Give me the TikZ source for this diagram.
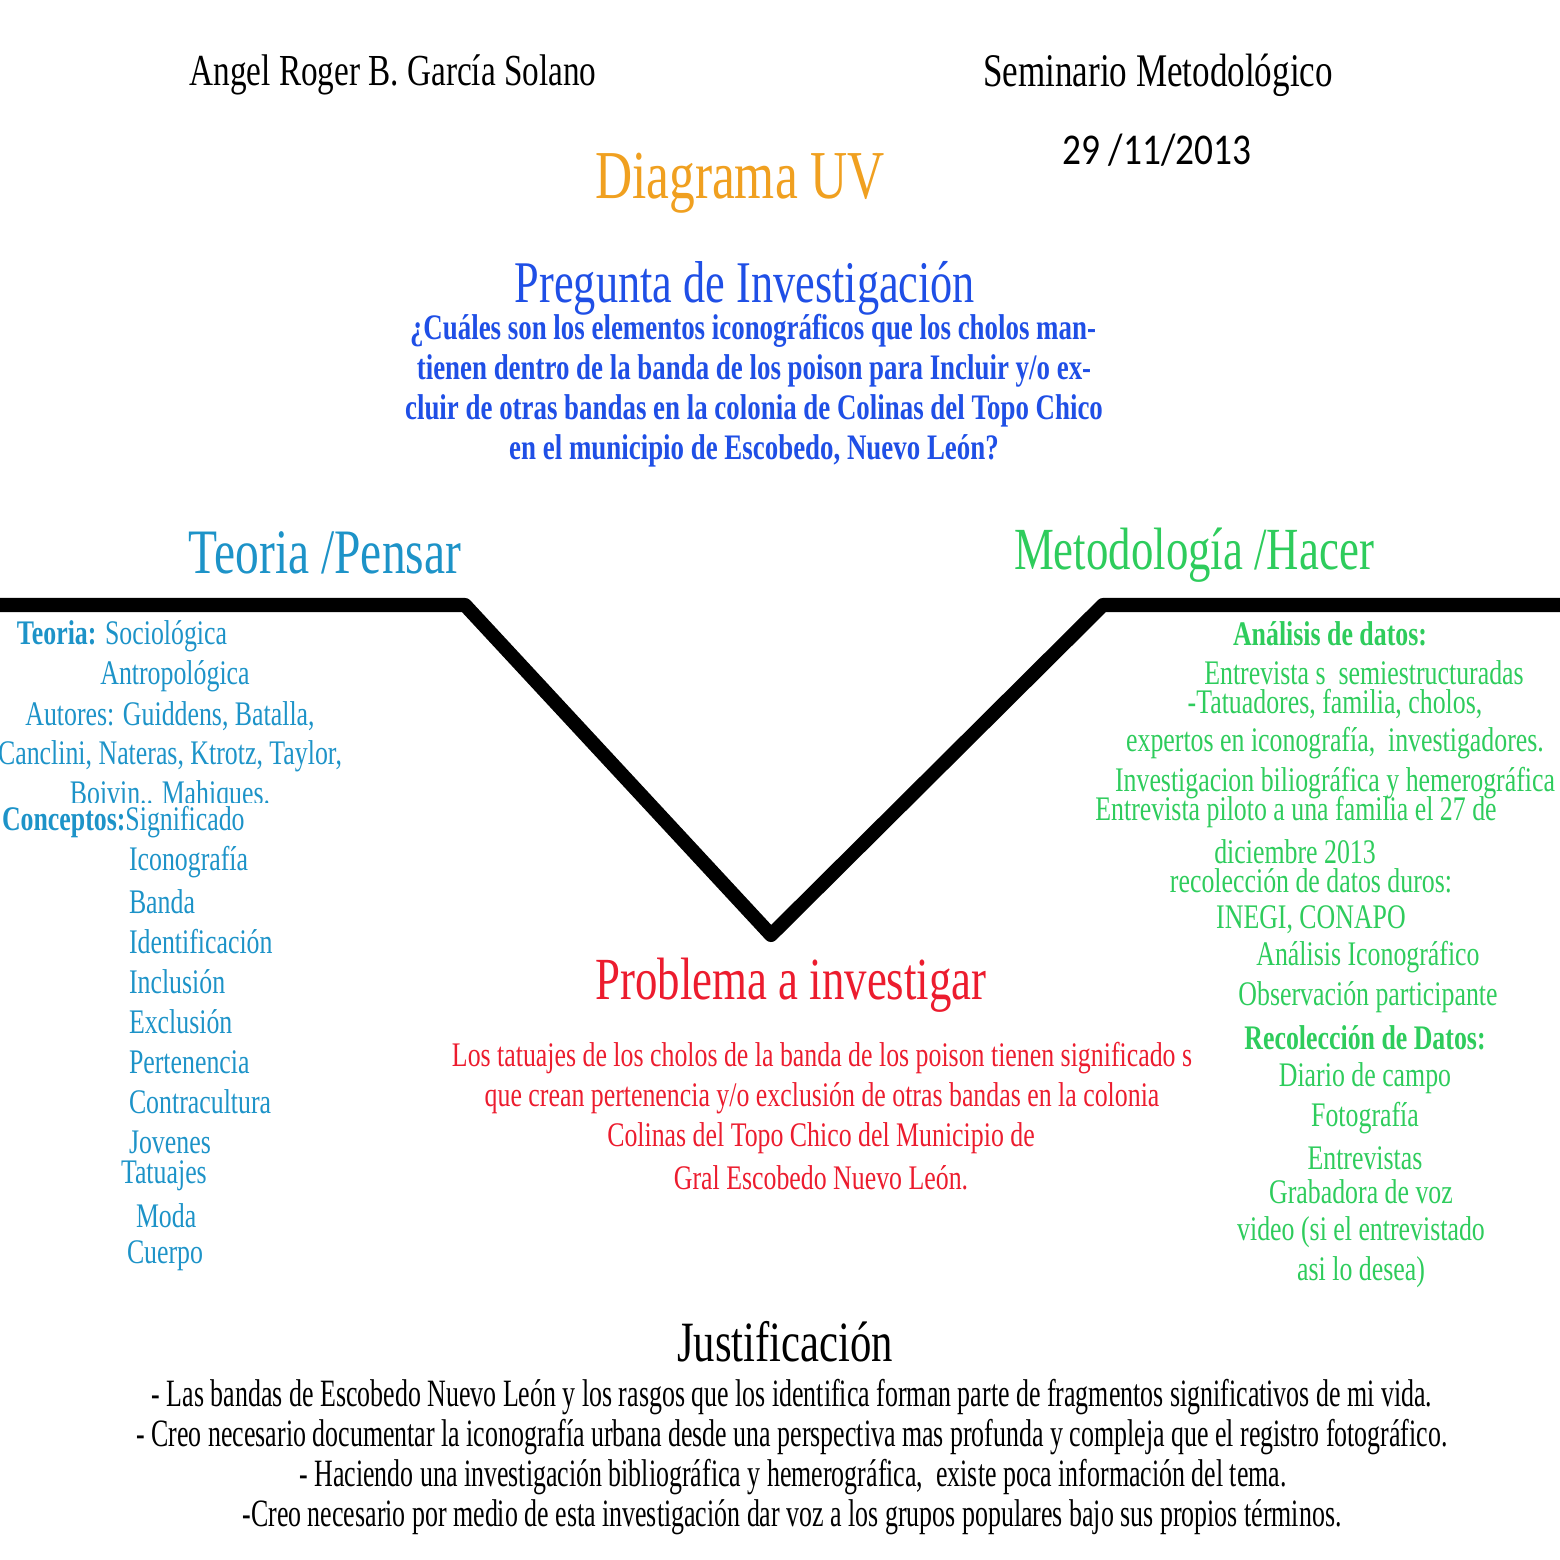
\documentclass[tikz,border=0pt]{standalone}
\usepackage{fontspec}
\setmainfont{Liberation Serif}[FakeStretch=0.75]
\newfontfamily\datefont{Carlito}[FakeStretch=0.85]
\newfontfamily\narrowfont{Liberation Serif}[FakeStretch=0.67]
\usetikzlibrary{positioning}

\definecolor{titleorange}{HTML}{F0A020}
\definecolor{askblue}{HTML}{1F4FE6}
\definecolor{thinkblue}{HTML}{1D93C8}
\definecolor{dogreen}{HTML}{2ECC5C}
\definecolor{probred}{HTML}{EC1C2E}

\begin{document}
\begin{tikzpicture}[
    x=0.01cm, y=-0.01cm,
    every node/.style={inner sep=0pt, outer sep=0pt},
    head/.style={font=\fontsize{12.6}{15}\selectfont},
    bigtitle/.style={font=\fontsize{16.8}{19}\selectfont},
    body/.style={font=\fontsize{9.8}{11}\selectfont},
    ask/.style={font=\fontsize{10.2}{12}\selectfont\bfseries, text=askblue},
    think/.style={body, text=thinkblue},
    do/.style={body, text=dogreen},
    prob/.style={body, text=probred},
    why/.style={font=\fontsize{11}{13}\narrowfont}
  ]
    \useasboundingbox (0,0) rectangle (1560,1560);

    % header
    \node[head] (author) at (393,75) {Angel Roger B. García Solano};
    \node[head, font=\fontsize{13.3}{15}\selectfont] (course) at (1158,75) {Seminario Metodológico};
    \node[font=\fontsize{12.5}{15}\datefont] (date) at (1157,150) {29 /11/2013};
    \node[font=\fontsize{19.5}{22}\selectfont, text=titleorange] (title) at (740,183) {Diagrama UV};

    % pregunta
    \node[bigtitle, text=askblue] (askhead) at (745,288) {Pregunta de Investigación};
    \node[ask] (ask1) at (753,331) {¿Cuáles son los elementos iconográficos que los cholos man-};
    \node[ask] (ask2) at (754,371) {tienen dentro de la banda de los poison para Incluir y/o ex-};
    \node[ask] (ask3) at (754,411) {cluir de otras bandas en la colonia de Colinas del Topo Chico};
    \node[ask] (ask4) at (754,451) {en el municipio de Escobedo, Nuevo León?};

    % las dos alas
    \node[font=\fontsize{18}{20}\selectfont, text=thinkblue] (thinkhead) at (325,553) {Teoria /Pensar};
    \node[font=\fontsize{17}{20}\selectfont, text=dogreen] (dohead) at (1194,555) {Metodología /Hacer};

    % la V
    \draw[line width=4pt, line join=round] (0,605) -- (465,605) -- (771,935) -- (1103,605) -- (1560,605);

    % teoria
    \node[think, anchor=west] (teoria) at (17,636) {\textbf{Teoria:} Sociológica};
    \node[think] (antro) at (175,676) {Antropológica};
    \node[think] (autores) at (170,716) {Autores: Guiddens, Batalla,};
    \node[think] (autores2) at (170,756) {Canclini, Nateras, Ktrotz, Taylor,};
    \begin{scope}
      \clip (0,770) rectangle (400,802);
      \node[think] (autores3) at (170,796) {Boivin.. Mahiques.};
    \end{scope}
    \node[think, anchor=west] (conceptos) at (2,822) {\textbf{Conceptos:}Significado};
    \node[think, anchor=west] (c1) at (129,862) {Iconografía};
    \node[think, anchor=west] (c2) at (129,902) {Banda};
    \node[think, anchor=west] (c3) at (129,942) {Identificación};
    \node[think, anchor=west] (c4) at (129,982) {Inclusión};
    \node[think, anchor=west] (c5) at (129,1022) {Exclusión};
    \node[think, anchor=west] (c6) at (129,1062) {Pertenencia};
    \node[think, anchor=west] (c7) at (129,1102) {Contracultura};
    \node[think, anchor=west] (c8) at (129,1142) {Jovenes};
    \node[think, anchor=west] (c9) at (121,1176) {Tatuajes};
    \node[think, anchor=west] (c10) at (136,1216) {Moda};
    \node[think, anchor=west] (c11) at (127,1256) {Cuerpo};

    % metodologia
    \node[do, font=\fontsize{9.8}{11}\selectfont\bfseries] (analisis) at (1330,634) {Análisis de datos:};
    \node[do] (m1) at (1364,673) {Entrevista s\ \ semiestructuradas};
    \node[do] (m2) at (1335,704) {-Tatuadores, familia, cholos,};
    \node[do] (m3) at (1335,743) {expertos en iconografía,\ \ investigadores.};
    \node[do] (m4) at (1335,783) {Investigacion biliográfica y hemerográfica};
    \node[do] (m5) at (1296,812) {Entrevista piloto a una familia el 27 de};
    \node[do] (m6) at (1295,852) {diciembre 2013};
    \node[do] (m7) at (1311,881) {recolección de datos duros:};
    \node[do] (m8) at (1311,920) {INEGI, CONAPO};
    \node[do] (m9) at (1368,957) {Análisis Iconográfico};
    \node[do] (m10) at (1368,997) {Observación participante};
    \node[do, font=\fontsize{9.8}{11}\selectfont\bfseries] (recoleccion) at (1365,1038) {Recolección de Datos:};
    \node[do] (r1) at (1365,1078) {Diario de campo};
    \node[do] (r2) at (1365,1118) {Fotografía};
    \node[do] (r3) at (1365,1158) {Entrevistas};
    \node[do] (r4) at (1361,1192) {Grabadora de voz};
    \node[do] (r5) at (1361,1232) {video (si el entrevistado};
    \node[do] (r6) at (1361,1272) {asi lo desea)};

    % problema
    \node[bigtitle, font=\fontsize{17}{19}\selectfont, text=probred] (probhead) at (791,985) {Problema a investigar};
    \node[prob] (p1) at (822,1058) {Los tatuajes de los cholos de la banda de los poison tienen significado s};
    \node[prob] (p2) at (822,1098) {que crean pertenencia y/o exclusión de otras bandas en la colonia};
    \node[prob] (p3) at (821,1138) {Colinas del Topo Chico del Municipio de};
    \node[prob] (p4) at (821,1178) {Gral Escobedo Nuevo León.};

    % justificacion
    \node[bigtitle, font=\fontsize{16.2}{19}\selectfont] (whyhead) at (785,1342) {Justificación};
    \node[why] (w1) at (792,1397) {- Las bandas de Escobedo Nuevo León y los rasgos que los identifica forman parte de fragmentos significativos de mi vida.};
    \node[why] (w2) at (792,1437) {- Creo necesario documentar la iconografía urbana desde una perspectiva mas profunda y compleja que el registro fotográfico.};
    \node[why] (w3) at (793,1477) {- Haciendo una investigación bibliográfica y hemerográfica,\ \ existe poca información del tema.};
    \node[why] (w4) at (792,1517) {-Creo necesario por medio de esta investigación dar voz a los grupos populares bajo sus propios términos.};
  \end{tikzpicture}
\end{document}
